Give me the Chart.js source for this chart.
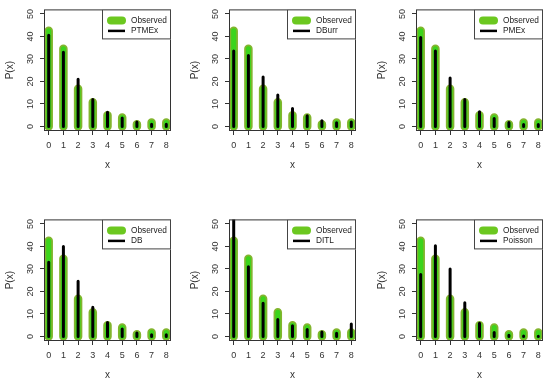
<!DOCTYPE html>
<html>
<head>
<meta charset="utf-8">
<script src="https://cdn.jsdelivr.net/npm/chart.js@4.4.1/dist/chart.umd.min.js"></script>
<style>
    body { margin: 0; background: #fff; }
    #wrap { position: relative; width: 550px; height: 384px; overflow: hidden; }
    #wrap canvas { position: absolute; }
</style>
</head>
<body>
<div id="wrap"></div>
<script>
// counts for x = 0..8
const xVals = [0, 1, 2, 3, 4, 5, 6, 7, 8]
const observed = [42.5, 34.5, 16.8, 10.8, 5, 4, 1, 1.8, 1.8]
const ptmex = [40.5, 33, 21, 12, 6.3, 3.8, 2, 1, 1]
const dburr = [33.5, 31.5, 22, 14, 8, 4.8, 2.6, 1.7, 2]
const pmex = [39.5, 33.5, 21.5, 12, 6.5, 3.6, 1.8, 0.9, 0.9]
const db = [33, 40, 24.5, 13, 6.2, 3.3, 1.5, 0.8, 0.8]
const ditl = [60, 31, 14.8, 7.5, 4.8, 3.1, 2, 1.4, 5.6]
const poisson = [27.5, 40.3, 30, 15, 5.9, 1.8, 0.5, 0.2, 0.1]
const yTicks = [0, 10, 20, 30, 40, 50]

const panels = [
    { name: 'PTMEx', fit: ptmex, left: 0, top: 0 },
    { name: 'DBurr', fit: dburr, left: 185, top: 0 },
    { name: 'PMEx', fit: pmex, left: 372, top: 0 },
    { name: 'DB', fit: db, left: 0, top: 210 },
    { name: 'DITL', fit: ditl, left: 185, top: 210 },
    { name: 'Poisson', fit: poisson, left: 372, top: 210 }
]

const GREEN_EDGE = '#82b52e', GREEN_FILL = '#3bd41c', GREEN_KEY = '#6cc820'
Chart.defaults.font.family = '"Liberation Sans", Arial, sans-serif'
Chart.defaults.color = '#333'

// vertical "type h" segments: 0 -> value, then a gap
const spikes = vals => {
    const pts = []
    vals.forEach((v, i) => {
        pts.push({ x: xVals[i], y: 0 }, { x: xVals[i], y: v }, { x: xVals[i], y: null })
    })
    return pts
}

const spikeSet = (vals, color, width, order) => ({
    data: spikes(vals),
    showLine: true,
    borderColor: color,
    borderWidth: width,
    borderCapStyle: 'round',
    pointRadius: 0,
    spanGaps: false,
    clip: 0,
    order: order
})

// R style box round the plot region
const plotBox = {
    id: 'plotBox',
    afterDraw(chart) {
        const { ctx, chartArea: a } = chart
        ctx.save()
        ctx.strokeStyle = '#333'
        ctx.lineWidth = 1
        ctx.strokeRect(a.left + 0.5, a.top + 0.5, a.right - a.left - 1, a.bottom - a.top - 1)
        ctx.restore()
    }
}

// legend in the top right corner, with a frame
const legendBox = {
    id: 'legendBox',
    afterDraw(chart, args, opts) {
        const { ctx, chartArea: a } = chart
        const w = 69, h = 30
        const x = a.right - w, y = a.top
        ctx.save()
        ctx.fillStyle = '#fff'
        ctx.fillRect(x, y, w, h)
        ctx.strokeStyle = '#444'
        ctx.lineWidth = 1
        ctx.strokeRect(x + 0.5, y + 0.5, w - 1, h - 1)
        ctx.lineCap = 'round'
        ctx.strokeStyle = GREEN_KEY
        ctx.lineWidth = 8
        ctx.beginPath(); ctx.moveTo(x + 9, y + 11); ctx.lineTo(x + 20, y + 11); ctx.stroke()
        ctx.strokeStyle = '#000'
        ctx.lineWidth = 2.5
        ctx.lineCap = 'butt'
        ctx.beginPath(); ctx.moveTo(x + 6, y + 21.5); ctx.lineTo(x + 23, y + 21.5); ctx.stroke()
        ctx.fillStyle = '#222'
        ctx.font = '8.3px "Liberation Sans", Arial, sans-serif'
        ctx.textBaseline = 'middle'
        ctx.fillText('Observed', x + 29, y + 11)
        ctx.fillText(opts.label, x + 29, y + 21.5)
        ctx.restore()
    }
}

const wrap = document.getElementById('wrap')

panels.forEach(p => {
    const canvas = document.createElement('canvas')
    canvas.width = 177
    canvas.height = 177
    canvas.style.left = p.left + 'px'
    canvas.style.top = p.top + 'px'
    wrap.appendChild(canvas)

    new Chart(canvas, {
        type: 'scatter',
        data: {
            datasets: [
                spikeSet(p.fit, '#000', 3, 0),
                spikeSet(observed, GREEN_FILL, 5, 1),
                spikeSet(observed, GREEN_EDGE, 8.5, 2)
            ]
        },
        options: {
            responsive: false,
            devicePixelRatio: 1,
            animation: false,
            events: [],
            layout: { padding: { top: 8, right: 6, left: 0, bottom: 0 } },
            plugins: {
                legend: { display: false },
                tooltip: { enabled: false },
                legendBox: { label: p.name }
            },
            scales: {
                x: {
                    type: 'linear',
                    min: -0.32,
                    max: 8.32,
                    afterBuildTicks: axis => { axis.ticks = xVals.map(v => ({ value: v })) },
                    afterFit: axis => { axis.height = 46 },
                    grid: { drawOnChartArea: false, drawTicks: true, tickLength: 4, color: '#333' },
                    border: { display: false },
                    ticks: { font: { size: 9 }, padding: 5, maxRotation: 0 },
                    title: { display: true, text: 'x', font: { size: 10 }, padding: { top: 0, bottom: 5.5 } }
                },
                y: {
                    min: -2,
                    max: 52,
                    afterBuildTicks: axis => { axis.ticks = yTicks.map(v => ({ value: v })) },
                    afterFit: axis => { axis.width = 44 },
                    grid: { drawOnChartArea: false, drawTicks: true, tickLength: 4, color: '#333' },
                    border: { display: false },
                    ticks: { font: { size: 9 }, padding: 4, minRotation: 90, maxRotation: 90, crossAlign: 'center' },
                    title: { display: true, text: 'P(x)', font: { size: 10 }, padding: { top: 4.5, bottom: 0 } }
                }
            }
        },
        plugins: [plotBox, legendBox]
    })
})
</script>
</body>
</html>
